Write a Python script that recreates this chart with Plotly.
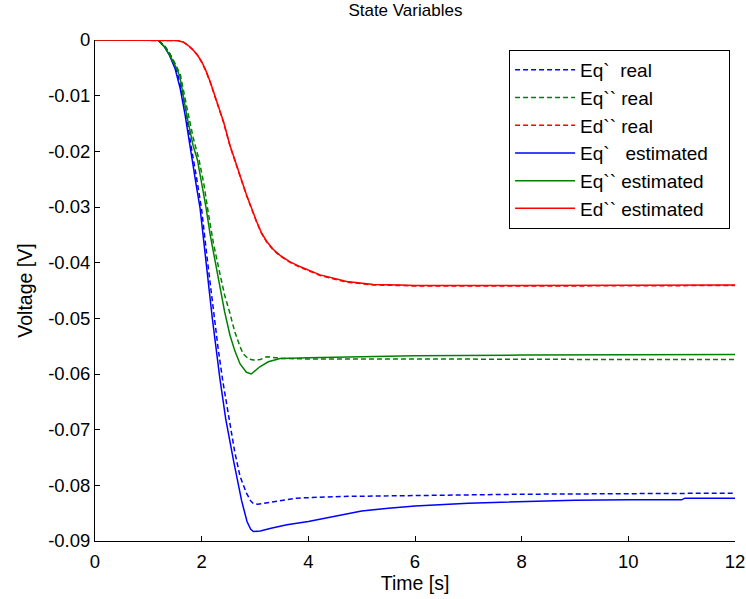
import plotly.graph_objects as go

# ---- data ----
t_eq1_est = [0, 1.18, 1.3, 1.4, 1.5, 1.6, 1.69, 1.8, 1.9, 1.97, 2.09, 2.2, 2.34, 2.45, 2.6, 2.75, 2.85, 2.92, 2.97, 3.1, 3.3, 3.6, 4.0, 4.5, 5.0, 5.5, 6.0, 7.0, 8.0, 9.0, 10.0, 11.0, 11.06, 12.0]
y_eq1_est = [0, 0, -0.0012, -0.0028, -0.0051, -0.0088, -0.0135, -0.0205, -0.0262, -0.0302, -0.041, -0.050, -0.0607, -0.068, -0.0757, -0.0828, -0.0865, -0.0879, -0.0883, -0.0882, -0.0877, -0.0871, -0.0865, -0.0855, -0.0846, -0.0841, -0.0837, -0.0832, -0.0829, -0.0827, -0.0826, -0.0826, -0.0823, -0.0823]

t_eq1_real = [0, 1.18, 1.3, 1.4, 1.5, 1.6, 1.7, 1.8, 1.9, 2.0, 2.1, 2.2, 2.31, 2.4, 2.53, 2.62, 2.72, 2.84, 2.92, 2.97, 3.05, 3.2, 3.47, 3.78, 4.6, 6.0, 8.0, 10.0, 12.0]
y_eq1_real = [0, 0, -0.0010, -0.0024, -0.0045, -0.008, -0.0125, -0.019, -0.0245, -0.0305, -0.039, -0.047, -0.0555, -0.0615, -0.0688, -0.074, -0.0784, -0.0814, -0.0828, -0.0833, -0.0834, -0.0832, -0.0828, -0.0823, -0.0820, -0.0818, -0.0816, -0.0815, -0.0814]

t_eq2_est = [0, 1.18, 1.3, 1.4, 1.5, 1.59, 1.72, 1.84, 1.92, 2.0, 2.08, 2.16, 2.25, 2.34, 2.43, 2.53, 2.62, 2.72, 2.84, 2.93, 3.0, 3.09, 3.25, 3.47, 4.0, 4.4, 6.0, 8.0, 10.0, 12.0]
y_eq2_est = [0, 0, -0.0012, -0.0027, -0.0045, -0.0065, -0.0135, -0.019, -0.0215, -0.0255, -0.030, -0.035, -0.0395, -0.0440, -0.0488, -0.0530, -0.0558, -0.0582, -0.0597, -0.0600, -0.0595, -0.0587, -0.0578, -0.0572, -0.0571, -0.0570, -0.0567, -0.0566, -0.0565, -0.0565]

t_eq2_real = [0, 1.18, 1.3, 1.4, 1.5, 1.6, 1.72, 1.84, 1.95, 2.04, 2.125, 2.22, 2.34, 2.43, 2.53, 2.62, 2.72, 2.78, 2.88, 2.97, 3.1, 3.22, 3.5, 4.0, 6.0, 8.0, 10.0, 12.0]
y_eq2_real = [0, 0, -0.0010, -0.0024, -0.0042, -0.0062, -0.0120, -0.0175, -0.0215, -0.0258, -0.0311, -0.0365, -0.0419, -0.0458, -0.0491, -0.0524, -0.0551, -0.0564, -0.0573, -0.0575, -0.0574, -0.0569, -0.0572, -0.0573, -0.0573, -0.0574, -0.0574, -0.0574]

t_ed2_est = [0, 1.41, 1.55, 1.66, 1.75, 1.84, 1.92, 2.0, 2.08, 2.16, 2.28, 2.41, 2.53, 2.69, 2.84, 3.03, 3.12, 3.22, 3.34, 3.47, 3.65, 3.84, 4.22, 4.72, 5.22, 5.72, 6.0, 8.0, 10.0, 12.0]
y_ed2_est = [0, 0, -0.0001, -0.0004, -0.0010, -0.0018, -0.0027, -0.0039, -0.0055, -0.0075, -0.0111, -0.0147, -0.0189, -0.0237, -0.0278, -0.0326, -0.0346, -0.0362, -0.0376, -0.0387, -0.0398, -0.0407, -0.0422, -0.0434, -0.0439, -0.0440, -0.0441, -0.0441, -0.0440, -0.0440]

t_ed2_real = [0, 1.41, 1.55, 1.66, 1.75, 1.84, 1.92, 2.0, 2.08, 2.16, 2.28, 2.41, 2.53, 2.69, 2.84, 3.03, 3.12, 3.22, 3.34, 3.47, 3.65, 3.84, 4.22, 4.72, 5.22, 5.72, 6.0, 8.0, 10.0, 12.0]
y_ed2_real = [0, 0, -0.0001, -0.0004, -0.0010, -0.0018, -0.0027, -0.0040, -0.0056, -0.0076, -0.0112, -0.0148, -0.0190, -0.0238, -0.0279, -0.0327, -0.0347, -0.0363, -0.0377, -0.0388, -0.0399, -0.0408, -0.0423, -0.0435, -0.0440, -0.0441, -0.0442, -0.0442, -0.0441, -0.0441]

x_ticks = [0, 2, 4, 6, 8, 10, 12]
y_ticks = [0, -0.01, -0.02, -0.03, -0.04, -0.05, -0.06, -0.07, -0.08, -0.09]
y_ticklabels = ["0", "-0.01", "-0.02", "-0.03", "-0.04", "-0.05", "-0.06", "-0.07", "-0.08", "-0.09"]

NB = "\u00a0"
series = [
    ("Eq`" + NB * 2 + "real", t_eq1_real, y_eq1_real, "#0000ff", "5px,3px"),
    ("Eq``" + NB + "real", t_eq2_real, y_eq2_real, "#008000", "5px,3px"),
    ("Ed``" + NB + "real", t_ed2_real, y_ed2_real, "#ff0000", "5px,3px"),
    ("Eq`" + NB * 3 + "estimated", t_eq1_est, y_eq1_est, "#0000ff", "solid"),
    ("Eq``" + NB + "estimated", t_eq2_est, y_eq2_est, "#008000", "solid"),
    ("Ed``" + NB + "estimated", t_ed2_est, y_ed2_est, "#ff0000", "solid"),
]

FONT = "Liberation Sans, Arial, sans-serif"

fig = go.Figure()
for i, (name, xs, ys, col, dash) in enumerate(series):
    fig.add_trace(go.Scatter(
        x=xs, y=ys, mode="lines", name=name + NB * 3, legendgroup=f"g{i}",
        line=dict(color=col, width=1.5, dash=dash),
    ))

axis_common = dict(
    showline=True, linecolor="black", linewidth=1, mirror=False,
    ticks="inside", ticklen=5, tickcolor="black", tickwidth=1,
    showgrid=False, zeroline=False, automargin=False,
    tickfont=dict(family=FONT, size=18.5, color="black"),
)

fig.update_layout(
    width=746, height=599,
    margin=dict(l=95, r=11, t=40, b=58),
    paper_bgcolor="white", plot_bgcolor="white",
    font=dict(family=FONT, size=17, color="black"),
    title=dict(text="State Variables", x=0.485, xref="paper", y=0.983, yref="container",
               yanchor="middle", font=dict(family=FONT, size=17, color="black")),
    xaxis=dict(range=[0, 12], tickvals=x_ticks, ticklabelstandoff=4,
               title=dict(text="Time [s]", standoff=1, font=dict(family=FONT, size=19.5)), **axis_common),
    yaxis=dict(range=[-0.09, 0], tickvals=y_ticks, ticktext=y_ticklabels,
               title=dict(text="Voltage [V]", standoff=10, font=dict(family=FONT, size=19.5)), **axis_common),
    legend=dict(
        x=0.647, y=0.98, xanchor="left", yanchor="top",
        bgcolor="white", bordercolor="black", borderwidth=1,
        traceorder="grouped", tracegroupgap=0, itemwidth=60,
        font=dict(family=FONT, size=19, color="black"),
    ),
)

fig.write_html("out.html")
